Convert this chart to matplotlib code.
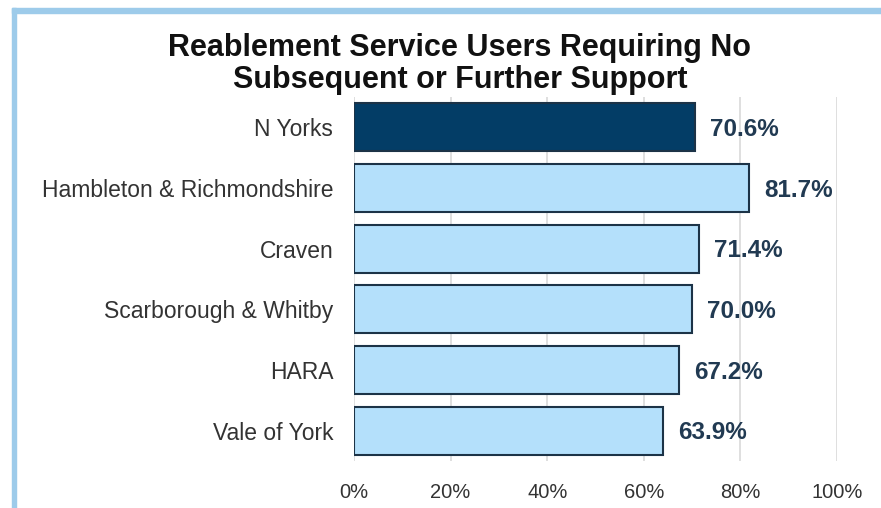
import matplotlib
matplotlib.use("Agg")
import matplotlib.pyplot as plt
from matplotlib.patches import Rectangle

# data
areas = [
    "N Yorks",
    "Hambleton & Richmondshire",
    "Craven",
    "Scarborough & Whitby",
    "HARA",
    "Vale of York",
]
pct_no_support = [70.6, 81.7, 71.4, 70.0, 67.2, 63.9]
x_ticks = [0, 20, 40, 60, 80, 100]
title = "Reablement Service Users Requiring No\nSubsequent or Further Support"

plt.rcParams["font.family"] = ["Liberation Sans", "DejaVu Sans"]

fig = plt.figure(figsize=(8.81, 5.08), dpi=100)
fig.patch.set_facecolor("white")

# light blue frame around the chart (top and left edges)
fig.patches.append(Rectangle((12 / 881, 0), 4 / 881, 1 - 8 / 508,
                             transform=fig.transFigure, color="#9dcbea", zorder=0))
fig.patches.append(Rectangle((12 / 881, 1 - 13 / 508), 1, 5 / 508,
                             transform=fig.transFigure, color="#9dcbea", zorder=0))

ax = fig.add_axes([354 / 881, 1 - 461 / 508, 483 / 881, 364 / 508])

colors = ["#033d66"] + ["#b4e0fb"] * (len(areas) - 1)
ypos = list(range(len(areas)))
bars = ax.barh(ypos, pct_no_support, height=0.79, color=colors,
               edgecolor="#1c3347", linewidth=1.5, zorder=3)

for y, v in zip(ypos, pct_no_support):
    ax.annotate(f"{v:.1f}%", xy=(v, y), xytext=(11, -1.5), textcoords="offset points",
                va="center", ha="left", fontsize=17.5, fontweight="bold",
                color="#213a52")

ax.set_xlim(0, 100)
ax.set_ylim(len(areas) - 0.5, -0.5)
ax.set_xticks(x_ticks)
ax.set_xticklabels([f"{t}%" for t in x_ticks])
ax.set_yticks(ypos)
ax.set_yticklabels(areas)
ax.tick_params(axis="x", length=0, pad=16, labelsize=14.5, labelcolor="#333333")
ax.tick_params(axis="y", length=0, pad=15, labelsize=16.5, labelcolor="#333333")
ax.grid(axis="x", color="#d9d9d9", linewidth=1.2, zorder=0)
for s in ax.spines.values():
    s.set_visible(False)

fig.text(460 / 881, 1 - 64 / 508, title, ha="center", va="center",
         fontsize=22, fontweight="bold", linespacing=1.12, color="#111111")

fig.savefig("out.png", dpi=100)
